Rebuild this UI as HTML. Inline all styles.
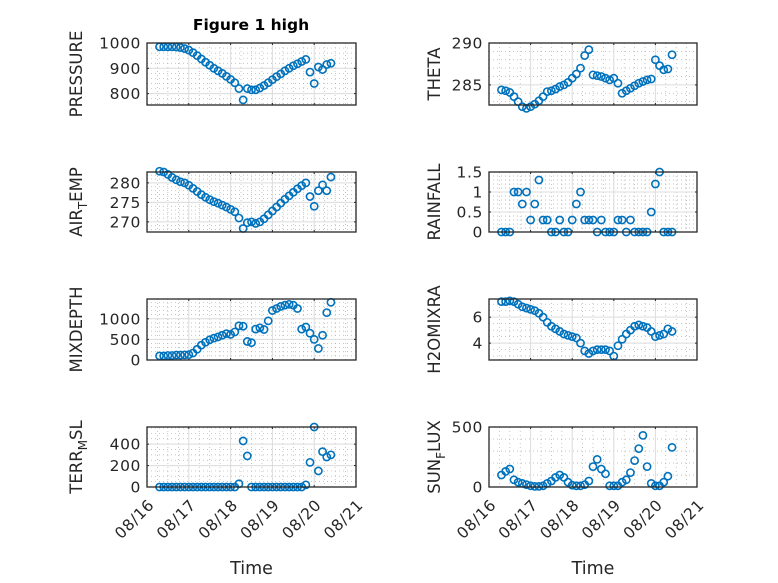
<!DOCTYPE html>
<html><head><meta charset="utf-8"><style>
body{margin:0;background:#fff}
svg{display:block;font-family:"DejaVu Sans","Liberation Sans",sans-serif}
</style></head><body>
<svg id="fig" width="778" height="583" viewBox="0 0 778 583">
<rect width="778" height="583" fill="#fff"/>
<text x="251" y="30" text-anchor="middle" font-size="15.5" font-weight="bold" fill="#000">Figure 1 high</text>
</svg>
<script>
const tDays=[0.3,0.4,0.5,0.6,0.7,0.8,0.9,1.0,1.1,1.2,1.3,1.4,1.5,1.6,1.7,1.8,1.9,2.0,2.1,2.2,2.3,2.4,2.5,2.6,2.7,2.8,2.9,3.0,3.1,3.2,3.3,3.4,3.5,3.6,3.7,3.8,3.9,4.0,4.1,4.2,4.3,4.4];
const xTickLabels=["08/16","08/17","08/18","08/19","08/20","08/21"];
const pressure=[985,985,985,985,984,982,978,972,962,950,937,924,912,900,890,880,868,856,843,820,775,820,815,815,822,832,843,855,867,878,890,900,910,918,927,935,885,840,905,895,915,920];
const theta=[284.4,284.3,284.1,283.6,283.0,282.4,282.2,282.4,282.7,283.1,283.6,284.2,284.3,284.5,284.8,285.0,285.3,285.8,286.3,287.0,288.5,289.2,286.2,286.1,286.0,285.8,285.6,285.8,285.2,284.0,284.3,284.6,284.9,285.2,285.4,285.6,285.7,288.0,287.3,286.8,286.9,288.6];
const airTemp=[283,282.8,282.2,281.4,280.8,280.3,280.0,279.4,278.6,277.8,277.0,276.3,275.7,275.2,274.8,274.3,273.8,273.2,272.6,271.0,268.3,269.8,270.0,269.6,270.0,270.8,271.8,272.8,273.8,274.8,275.8,276.7,277.6,278.5,279.3,280.0,276.5,274.0,278.0,279.5,278.0,281.5];
const rainfall=[0,0,0,1.0,1.0,0.7,1.0,0.3,0.7,1.3,0.3,0.3,0,0,0.3,0,0,0.3,0.7,1.0,0.3,0.3,0.3,0,0.3,0,0,0,0.3,0.3,0,0.3,0,0,0,0,0.5,1.2,1.5,0,0,0];
const mixDepth=[100,100,110,110,120,120,125,130,170,260,360,430,490,530,560,600,640,620,680,830,820,450,420,750,780,740,950,1200,1250,1300,1330,1350,1330,1250,750,800,650,500,280,600,1150,1400];
const h2oMixRa=[7.2,7.2,7.25,7.2,7.0,6.8,6.7,6.6,6.5,6.3,6.0,5.6,5.3,5.1,4.9,4.7,4.6,4.5,4.4,4.0,3.4,3.2,3.4,3.5,3.5,3.5,3.4,3.0,3.8,4.3,4.7,5.0,5.3,5.4,5.3,5.2,4.9,4.5,4.6,4.7,5.1,4.9];
const terrMsl=[0,0,0,0,0,0,0,0,0,0,0,0,0,0,0,0,0,0,0,30,430,290,0,0,0,0,0,0,0,0,0,0,0,0,0,20,230,560,150,330,280,300];
const sunFlux=[100,130,150,60,40,30,20,10,5,5,10,30,50,80,100,80,40,15,10,10,20,50,170,230,150,110,10,10,10,40,60,120,220,320,430,170,30,10,10,40,90,330];

const NS="http://www.w3.org/2000/svg";
const svg=document.getElementById('fig');
function mk(tag,attrs,parent){const e=document.createElementNS(NS,tag);for(const k in attrs)e.setAttribute(k,attrs[k]);(parent||svg).appendChild(e);return e;}

const panels=[
 {name:'pressure',vals:pressure,x0:147,x1:356,y0:43,y1:105,ymin:755,ymax:1000,ticks:[800,900,1000],minor:20,label:['PRESSURE'],lx:82,xl:false},
 {name:'theta',vals:theta,x0:489,x1:697,y0:43,y1:105,ymin:282.6,ymax:290,ticks:[285,290],minor:1,label:['THETA'],lx:440,xl:false},
 {name:'air-temp',vals:airTemp,x0:147,x1:356,y0:172,y1:232,ymin:267.4,ymax:282.8,ticks:[270,275,280],minor:1,label:['AIR','T','EMP'],lx:82,xl:false},
 {name:'rainfall',vals:rainfall,x0:489,x1:697,y0:172,y1:232,ymin:0,ymax:1.5,ticks:[0,0.5,1,1.5],minor:0.1,label:['RAINFALL'],lx:440,xl:false},
 {name:'mixdepth',vals:mixDepth,x0:147,x1:356,y0:299,y1:360,ymin:0,ymax:1480,ticks:[0,500,1000],minor:100,label:['MIXDEPTH'],lx:82,xl:false},
 {name:'h2omixra',vals:h2oMixRa,x0:489,x1:697,y0:299,y1:360,ymin:2.7,ymax:7.4,ticks:[4,6],minor:0.5,label:['H2OMIXRA'],lx:440,xl:false},
 {name:'terr-msl',vals:terrMsl,x0:147,x1:356,y0:427,y1:487,ymin:0,ymax:560,ticks:[0,200,400],minor:50,label:['TERR','M','SL'],lx:82,xl:true},
 {name:'sun-flux',vals:sunFlux,x0:489,x1:697,y0:427,y1:487,ymin:0,ymax:500,ticks:[0,500],minor:100,label:['SUN','F','LUX'],lx:440,xl:true}
];

panels.forEach(p=>{
  const g=mk('g',{});
  
  
  const xs=t=>p.x0+(t/5)*(p.x1-p.x0);
  const ys=v=>p.y1-(v-p.ymin)/(p.ymax-p.ymin)*(p.y1-p.y0);
  mk('rect',{x:p.x0,y:p.y0,width:p.x1-p.x0,height:p.y1-p.y0,fill:'#fff'},g);
  for(let d=0;d<5;d++)for(let k=1;k<4;k++){const x=xs(d+k/4);mk('line',{x1:x,x2:x,y1:p.y0,y2:p.y1,stroke:'#b0b0b0','stroke-width':0.7,'stroke-dasharray':'1 3'},g);}
  const start=Math.ceil(p.ymin/p.minor);
  for(let i=start;i*p.minor<=p.ymax;i++){const v=i*p.minor;const y=ys(v);mk('line',{x1:p.x0,x2:p.x1,y1:y,y2:y,stroke:'#b0b0b0','stroke-width':0.7,'stroke-dasharray':'1 3'},g);}
  for(let d=1;d<5;d++){const x=xs(d);mk('line',{x1:x,x2:x,y1:p.y0,y2:p.y1,stroke:'#dcdcdc','stroke-width':1},g);}
  p.ticks.forEach(v=>{const y=ys(v);mk('line',{x1:p.x0,x2:p.x1,y1:y,y2:y,stroke:'#dcdcdc','stroke-width':1},g);
    const tl=mk('text',{x:p.x0-6,y:y+5.5,'text-anchor':'end','font-size':15.5,'letter-spacing':0.6,fill:'#262626'},g);tl.textContent=String(v);
    
    
    mk('line',{x1:p.x0,x2:p.x0+2,y1:y,y2:y,stroke:'#262626'},g);mk('line',{x1:p.x1,x2:p.x1-2,y1:y,y2:y,stroke:'#262626'},g);});
  for(let d=1;d<5;d++){const x=xs(d);mk('line',{x1:x,x2:x,y1:p.y1,y2:p.y1-2,stroke:'#262626'},g);mk('line',{x1:x,x2:x,y1:p.y0,y2:p.y0+2,stroke:'#262626'},g);}
  const dg=mk('g',{},g);
  
  
  tDays.forEach((t,i)=>{const c=mk('circle',{cx:xs(t),cy:ys(p.vals[i]),r:3.6,fill:'none',stroke:'#0072BD','stroke-width':1.6},dg);
    
    });
  mk('rect',{x:p.x0,y:p.y0,width:p.x1-p.x0,height:p.y1-p.y0,fill:'none',stroke:'#262626','stroke-width':1.3},g);
  const cy=(p.y0+p.y1)/2;
  const lab=mk('text',{x:0,y:0,'text-anchor':'middle','font-size':16.5,fill:'#262626',transform:`translate(${p.lx},${cy}) rotate(-90)`},g);
  
  
  if(p.label.length===1){lab.textContent=p.label[0];}
  else{const a=mk('tspan',{},lab);a.textContent=p.label[0];const b=mk('tspan',{dy:5,'font-size':12},lab);b.textContent=p.label[1];const c=mk('tspan',{dy:-5},lab);c.textContent=p.label[2];}
  if(p.xl){
    xTickLabels.forEach((s,d)=>{const x=xs(d);const tl=mk('text',{x:0,y:0,'text-anchor':'end','font-size':15.5,'letter-spacing':0.6,fill:'#262626',transform:`translate(${x+8},${p.y1+19}) rotate(-45)`},g);tl.textContent=s;
      
      });
    const xt=mk('text',{x:(p.x0+p.x1)/2,y:574,'text-anchor':'middle','font-size':17.5,fill:'#262626'},g);xt.textContent='Time';
    
    
  }
});
</script>
</body></html>
